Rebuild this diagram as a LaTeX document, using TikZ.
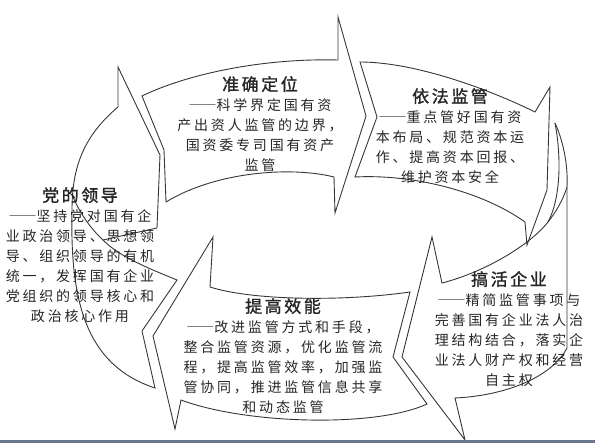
\documentclass[tikz,border=0pt]{standalone}
\usepackage{fontspec}
\usepackage{xcolor}
\usepackage{tikz}
\usetikzlibrary{calc}
\newfontfamily\cjk[LetterSpace=20]{Noto Sans CJK SC}
\newfontfamily\cjktitle[LetterSpace=15,FakeBold=1.5]{Noto Sans CJK SC}
\definecolor{barblue}{RGB}{104,120,140}
\definecolor{outline}{RGB}{55,55,55}
\newcommand{\blocktitle}[1]{{\cjktitle\fontsize{17}{20}\selectfont #1}}
\newcommand{\leaddash}{{\addfontfeatures{RawFeature=+fwid}——}}

\begin{document}
\begin{tikzpicture}[x=1pt,y=-1pt,
    arrowshape/.style={draw=outline, line width=0.9pt, line join=miter},
    blocktext/.style={align=center, inner sep=0pt, text=black!85,
        font=\cjk\fontsize{14}{20}\selectfont}]
    \useasboundingbox (0,0) rectangle (595,443);

    % 党的领导
    \draw[arrowshape] (118,67) -- (118,107)
        .. controls (85,135) and (72,165) .. (72,210)
        .. controls (70,300) and (85,365) .. (155,388)
        -- (142,331) -- (177,280)
        .. controls (140,265) and (118,255) .. (103,240)
        -- (157,228) -- (160,155) -- cycle;
    \draw[arrowshape] (103,240) .. controls (90,228) and (80,213) .. (73,197);

    % 准确定位
    \draw[arrowshape] (142,96) .. controls (185,75) and (260,58) .. (338,60)
        -- (338,17) -- (366,116) -- (335,213) -- (334,177)
        .. controls (290,166) and (215,172) .. (166,202)
        -- (164,150) -- cycle;

    % 依法监管
    \draw[arrowshape] (360,62) .. controls (410,62) and (480,85) .. (535,112)
        -- (550,87) -- (547,190) -- (527,245) -- (525,222)
        .. controls (480,190) and (410,174) .. (355,177)
        -- (377,117) -- cycle;

    % 搞活企业
    \draw[arrowshape] (555,123) .. controls (565,145) and (568,170) .. (567,187);
    \draw[arrowshape] (555,123) .. controls (562,160) and (560,200) .. (548,222);
    \draw[arrowshape] (567,187) .. controls (563,200) and (556,212) .. (548,222);
    \draw[arrowshape] (548,222) .. controls (530,245) and (485,272) .. (442,283)
        -- (432,237) -- (402,357) -- (465,440) -- (455,398)
        .. controls (500,396) and (550,380) .. (567,348)
        -- (567,187);

    % 提高效能
    \draw[arrowshape] (213,237) -- (210,287)
        .. controls (250,300) and (340,302) .. (410,292)
        -- (393,357) -- (427,404)
        .. controls (375,428) and (245,424) .. (181,400)
        -- (175,429) -- (153,336) -- cycle;

    \node[blocktext] (dingwei) at (260,124) {\blocktitle{准确定位}\\
        \leaddash 科学界定国有资\\产出资人监管的边界，\\国资委专司国有资产\\监管};
    \node[blocktext] (jianguan) at (450,136) {\blocktitle{依法监管}\\
        \leaddash 重点管好国有资\\本布局、规范资本运\\作、提高资本回报、\\维护资本安全};
    \node[blocktext] (qiye) at (509,329) {\blocktitle{搞活企业}\\
        \leaddash 精简监管事项与\\完善国有企业法人治\\理结构结合，落实企\\业法人财产权和经营\\自主权};
    \node[blocktext] (xiaoneng) at (283,356) {\blocktitle{提高效能}\\
        \leaddash 改进监管方式和手段，\\整合监管资源，优化监管流\\程，提高监管效率，加强监\\管协同，推进监管信息共享\\和动态监管};
    \node[blocktext] (lingdao) at (80,255) {\blocktitle{党的领导}\\
        \leaddash 坚持党对国有企\\业政治领导、思想领\\导、组织领导的有机\\统一，发挥国有企业\\党组织的领导核心和\\政治核心作用};

    \fill[barblue] (0,440) rectangle (595,443);
\end{tikzpicture}
\end{document}
